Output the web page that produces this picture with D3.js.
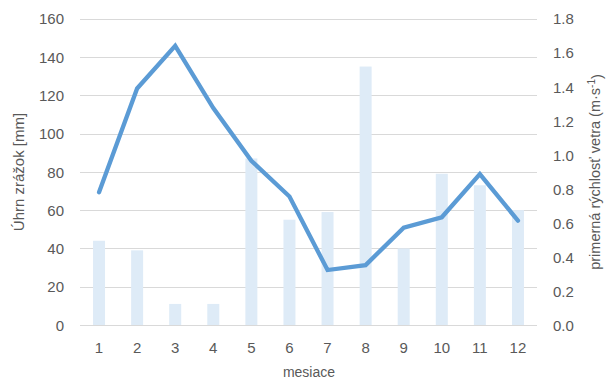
<!DOCTYPE html>
<html><head><meta charset="utf-8">
<script src="https://cdn.jsdelivr.net/npm/d3@7"></script>
<style>body{margin:0;background:#fff}svg{display:block}text{font-family:"Liberation Sans",Arial,sans-serif;fill:#595959}</style>
</head><body>
<svg id="c" width="612" height="383"></svg>
<script>
const months = ["1","2","3","4","5","6","7","8","9","10","11","12"];
const precipitation = [44, 39, 11, 11, 87, 55, 59, 135, 40, 79, 73, 60];
const windSpeed = [0.78, 1.39, 1.64, 1.275, 0.965, 0.755, 0.323, 0.352, 0.572, 0.633, 0.887, 0.613];
const leftTicks = [0, 20, 40, 60, 80, 100, 120, 140, 160];
const rightTicks = [0, 0.2, 0.4, 0.6, 0.8, 1.0, 1.2, 1.4, 1.6, 1.8];

const svg = d3.select("#c");
const L = 80, R = 537, T = 18.7, B = 325;
const xc = d3.scaleBand().domain(months).range([L, R]);
const yL = d3.scaleLinear().domain([0, 160]).range([B, T]);
const yR = d3.scaleLinear().domain([0, 1.8]).range([B, T]);

// gridlines
svg.append("g").selectAll("line").data(leftTicks).join("line")
  .attr("x1", L).attr("x2", R)
  .attr("y1", d => Math.round(yL(d)) + 0.5).attr("y2", d => Math.round(yL(d)) + 0.5)
  .attr("stroke", "#d9d9d9").attr("stroke-width", 1);

// bars
svg.append("g").selectAll("rect").data(precipitation).join("rect")
  .attr("x", (d, i) => xc(months[i]) + xc.bandwidth() / 2 - 6)
  .attr("width", 12)
  .attr("y", d => yL(d)).attr("height", d => B - yL(d))
  .attr("fill", "#deebf7");

// line
const line = d3.line().x((d, i) => xc(months[i]) + xc.bandwidth() / 2).y(d => yR(d));
svg.append("path").datum(windSpeed).attr("d", line)
  .attr("fill", "none").attr("stroke", "#5b9bd5").attr("stroke-width", 4.3)
  .attr("stroke-linejoin", "miter").attr("stroke-linecap", "round");

// axes
const fs = 15;
const axL = svg.append("g").attr("transform", `translate(64,0)`)
  .call(d3.axisLeft(yL).tickValues(leftTicks).tickSize(0).tickPadding(0).tickFormat(d3.format("d")));
const axR = svg.append("g").attr("transform", `translate(553,0)`)
  .call(d3.axisRight(yR).tickValues(rightTicks).tickSize(0).tickPadding(0).tickFormat(d3.format(".1f")));
const axB = svg.append("g").attr("transform", `translate(0,340)`)
  .call(d3.axisBottom(xc).tickSize(0).tickPadding(0));
[axL, axR, axB].forEach(a => {
  a.select(".domain").remove();
  a.selectAll("text").attr("font-size", fs).attr("fill", "#595959")
    .style("font-family", '"Liberation Sans", Arial, sans-serif');
});
axL.selectAll("text").attr("dy", "0.35em");
axR.selectAll("text").attr("dy", "0.35em");
axB.selectAll("text").attr("dy", "0.35em").attr("y", 8);

// titles
svg.append("text").attr("x", 309).attr("y", 373).attr("text-anchor", "middle")
  .attr("dominant-baseline", "middle").attr("font-size", 14).text("mesiace");
svg.append("text").attr("transform", "translate(20,172) rotate(-90)")
  .attr("text-anchor", "middle").attr("dominant-baseline", "middle")
  .attr("font-size", 15).text("Úhrn zrážok [mm]");
const rt = svg.append("text").attr("transform", "translate(596,172) rotate(-90)")
  .attr("text-anchor", "middle").attr("dominant-baseline", "middle")
  .attr("font-size", 14.5);
rt.append("tspan").text("primerná rýchlosť vetra (m·s");
rt.append("tspan").attr("dy", "-0.45em").attr("font-size", 10).text("-1");
rt.append("tspan").attr("dy", "0.45em").text(")");
</script>
</body></html>
